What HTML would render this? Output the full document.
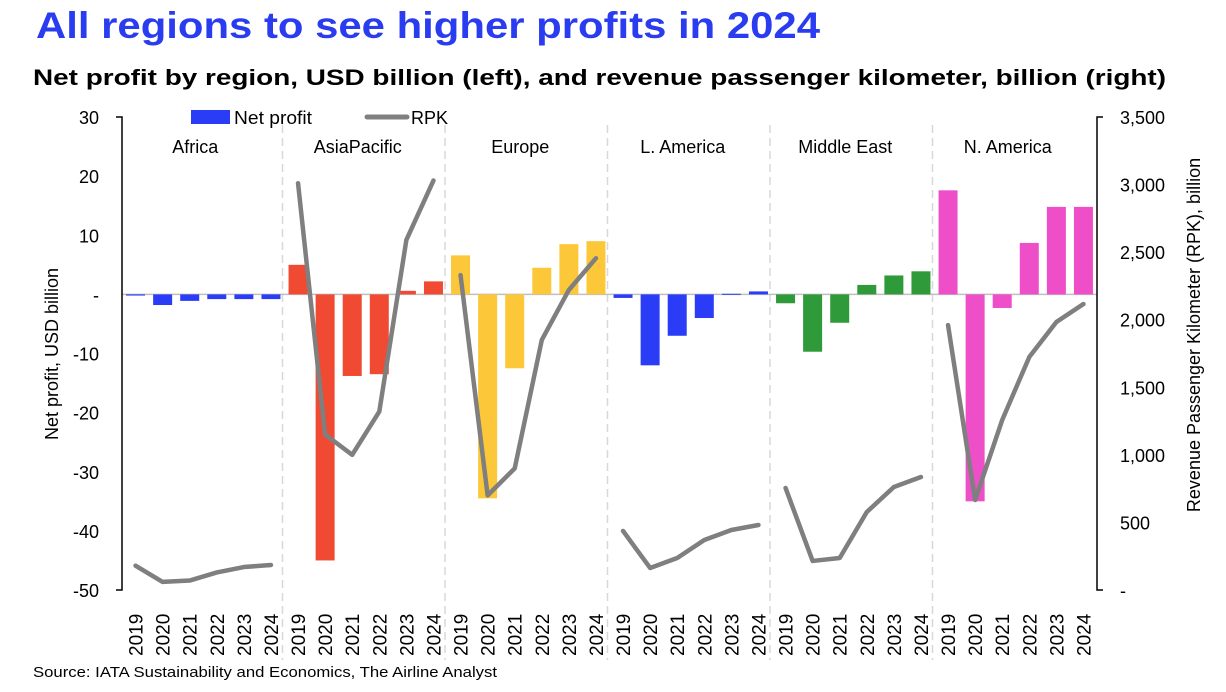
<!DOCTYPE html>
<html><head><meta charset="utf-8">
<style>
body{margin:0;background:#fff;width:1226px;height:687px;overflow:hidden;font-family:"Liberation Sans",sans-serif}
</style></head><body>
<svg width="1226" height="687" xmlns="http://www.w3.org/2000/svg" font-family="Liberation Sans, sans-serif">
<text x="36" y="38" font-size="37" font-weight="bold" fill="#2a3cf0" textLength="784" lengthAdjust="spacingAndGlyphs">All regions to see higher profits in 2024</text>
<text x="33" y="85" font-size="22" font-weight="bold" fill="#000" textLength="1133" lengthAdjust="spacingAndGlyphs">Net profit by region, USD billion (left), and revenue passenger kilometer, billion (right)</text>
<g id="plot"></g>
<rect x="191" y="110" width="39" height="14" fill="#2a3cf5"/>
<text x="234" y="124" font-size="18" textLength="78" lengthAdjust="spacingAndGlyphs">Net profit</text>
<line x1="367" y1="117" x2="407" y2="117" stroke="#808080" stroke-width="5" stroke-linecap="round"/>
<text x="411" y="124" font-size="18">RPK</text>
<text transform="translate(58,354) rotate(-90)" text-anchor="middle" font-size="18">Net profit, USD billion</text>
<text transform="translate(1200,335) rotate(-90)" text-anchor="middle" font-size="18">Revenue Passenger Kilometer (RPK), billion</text>
<text x="33" y="677" font-size="15" textLength="464" lengthAdjust="spacingAndGlyphs">Source: IATA Sustainability and Economics, The Airline Analyst</text>
</svg>
<script>
const regions=["Africa","AsiaPacific","Europe","L. America","Middle East","N. America"];
const years=["2019","2020","2021","2022","2023","2024"];
const colors=["#2a3cf5","#f04a32","#fcc83a","#2a3cf5","#2f9a3a","#ee4fc8"];
const profit=[
[-0.2,-1.8,-1.1,-0.8,-0.8,-0.8],
[5,-45,-13.8,-13.5,0.6,2.2],
[6.6,-34.5,-12.5,4.5,8.5,9],
[-0.6,-12,-7,-4,0.1,0.5],
[-1.5,-9.7,-4.8,1.6,3.2,3.9],
[17.6,-35,-2.3,8.7,14.8,14.8]];
const rpk=[
[180,60,70,130,170,185],
[3010,1150,1000,1320,2590,3030],
[2330,700,900,1850,2220,2455],
[437,163,237,370,444,481],
[755,215,237,577,762,836],
[1960,666,1258,1724,1983,2116]];
const leftTicks=[30,20,10,0,-10,-20,-30,-40,-50];
const rightTicks=[3500,3000,2500,2000,1500,1000,500,0];
const X0=122,X1=1097,Y0=117,Y1=590;
const slot=(X1-X0)/36;
const yL=v=>Y0+(30-v)*(Y1-Y0)/80;
const yR=v=>Y1-v*(Y1-Y0)/3500;
const xC=(g,i)=>X0+(g*6+i+0.5)*slot;
const NS="http://www.w3.org/2000/svg";
const P=document.getElementById('plot');
function mk(t,a){const e=document.createElementNS(NS,t);for(const k in a)e.setAttribute(k,a[k]);P.appendChild(e);return e;}
for(let g=1;g<6;g++){const x=X0+g*6*slot-2;
const l=mk('line',{x1:x,y1:125,x2:x,y2:660,stroke:'#d8d8d8','stroke-width':1.5,'stroke-dasharray':'8,5'});

}
const z=mk('line',{x1:X0,y1:yL(0),x2:X1,y2:yL(0),stroke:'#bfbfbf','stroke-width':1.5});


const al=mk('path',{d:`M${X0-6},${Y0}H${X0}V${Y1}H${X0-6}`,fill:'none',stroke:'#000','stroke-width':1.5});


const ar=mk('path',{d:`M${X1+6},${Y0}H${X1}V${Y1}H${X1+6}`,fill:'none',stroke:'#000','stroke-width':1.5});


leftTicks.forEach(v=>{const t=mk('text',{x:99,y:yL(v)+7,'text-anchor':'end','font-size':18});t.textContent=v===0?'-':v;

});
rightTicks.forEach(v=>{const t=mk('text',{x:1120,y:yR(v)+7,'font-size':18});t.textContent=v===0?'-':v.toLocaleString('en-US');

});
regions.forEach((r,g)=>{
const t=mk('text',{x:X0+(g*6+3)*slot-8,y:153,'text-anchor':'middle','font-size':18});t.textContent=r;


profit[g].forEach((v,i)=>{const y=Math.min(yL(v),yL(0)),h=Math.abs(yL(v)-yL(0));
const b=mk('rect',{x:xC(g,i)-9.5,y:y,width:19,height:Math.max(h,1),fill:colors[g]});


const yt=mk('text',{transform:`translate(${xC(g,i)+7},656) rotate(-90)`,'font-size':19});yt.textContent=years[i];

});
const pts=rpk[g].map((v,i)=>xC(g,i)+','+yR(v)).join(' ');
const pl=mk('polyline',{points:pts,fill:'none',stroke:'#7f7f7f','stroke-width':4.5,'stroke-linejoin':'round','stroke-linecap':'round'});


});
</script>
</body></html>
